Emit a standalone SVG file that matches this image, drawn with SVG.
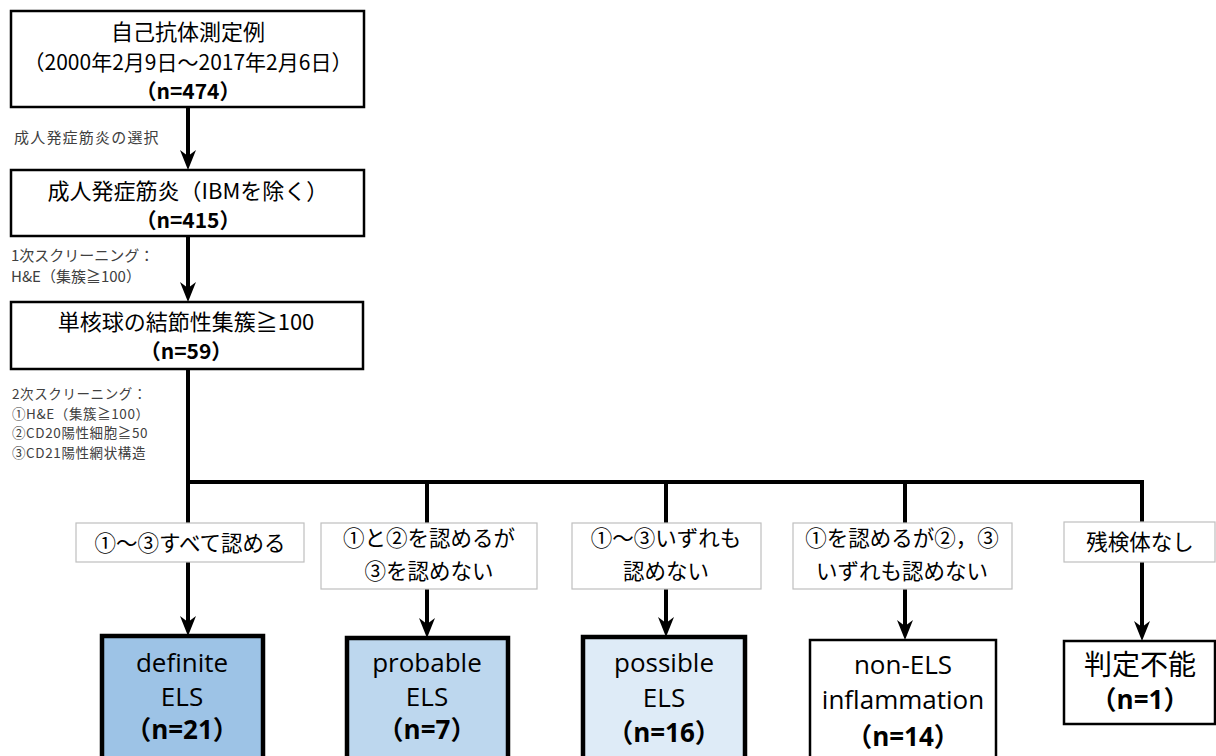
<svg xmlns="http://www.w3.org/2000/svg" width="1216" height="756" viewBox="0 0 1216 756">
<style>
.jp{font-family:"Noto Sans CJK JP","Noto Sans",sans-serif;fill:#000}
.lat{font-family:"Open Sans","Noto Sans CJK JP",sans-serif;fill:#000}
.small{font-family:"Noto Sans CJK JP","Noto Sans",sans-serif;font-size:15px;fill:#404040}
.sm2{font-size:13.5px;letter-spacing:0.6px}
.box{fill:#fff;stroke:#000;stroke-width:2.5}
.lbl{fill:#fff;stroke:#bfbfbf;stroke-width:1.2}
.thick{stroke:#000;stroke-width:4.5}
.thin{fill:#fff;stroke:#000;stroke-width:2.5}
.conn{fill:none;stroke:#000;stroke-width:4}
.b{font-weight:bold}
</style>
<defs>
<marker id="ah" markerUnits="userSpaceOnUse" viewBox="0 0 20 16" markerWidth="20" markerHeight="16" refX="12" refY="8" orient="auto">
<path d="M0,0 L20,8 L0,16 L6,8 Z" fill="#000"/>
</marker>
</defs>

<g id="connectors">
<line class="conn" x1="188" y1="107" x2="188" y2="162" marker-end="url(#ah)"/>
<line class="conn" x1="188" y1="236" x2="188" y2="294" marker-end="url(#ah)"/>
<line class="conn" x1="188" y1="369" x2="188" y2="628" marker-end="url(#ah)"/>
<path class="conn" d="M186,482 H1142 V633" marker-end="url(#ah)"/>
<line class="conn" x1="427" y1="482" x2="427" y2="630" marker-end="url(#ah)"/>
<line class="conn" x1="666" y1="482" x2="666" y2="629" marker-end="url(#ah)"/>
<line class="conn" x1="905" y1="482" x2="905" y2="632" marker-end="url(#ah)"/>
</g>

<g id="label-select">
<text class="small" x="14" y="143" letter-spacing="1.2">成人発症筋炎の選択</text>
</g>
<g id="label-screen1">
<text class="small" x="11" y="261" font-size="14">1次スクリーニング：</text>
<text class="small" x="11" y="282" font-size="14">H&amp;E（集簇≧100）</text>
</g>
<g id="label-screen2">
<text class="small sm2" x="12" y="399">2次スクリーニング：</text>
<text class="small sm2" x="12" y="418.5">①H&amp;E（集簇≧100）</text>
<text class="small sm2" x="12" y="438">②CD20陽性細胞≧50</text>
<text class="small sm2" x="12" y="457.5">③CD21陽性網状構造</text>
</g>

<g id="node-all">
<rect class="box" x="11" y="11" width="353" height="96"/>
<text class="jp" x="188" y="40" font-size="22" text-anchor="middle">自己抗体測定例</text>
<text class="jp" x="188" y="70" font-size="21" text-anchor="middle">（2000年2月9日～2017年2月6日）</text>
<text class="jp b" x="188" y="99" font-size="21" text-anchor="middle">（n=474）</text>
</g>
<g id="node-adult">
<rect class="box" x="11" y="170" width="353" height="66"/>
<text class="jp" x="188" y="199" font-size="22" text-anchor="middle">成人発症筋炎（IBMを除く）</text>
<text class="jp b" x="188" y="228" font-size="21" text-anchor="middle">（n=415）</text>
</g>
<g id="node-nodular">
<rect class="box" x="11" y="302" width="352" height="67"/>
<text class="jp" x="186" y="330" font-size="22" text-anchor="middle">単核球の結節性集簇≧100</text>
<text class="jp b" x="186" y="359" font-size="21" text-anchor="middle">（n=59）</text>
</g>

<g id="cond-1">
<rect class="lbl" x="76" y="523" width="228" height="39"/>
<text class="jp" x="190" y="551" font-size="21.5" text-anchor="middle">①～③すべて認める</text>
</g>
<g id="cond-2">
<rect class="lbl" x="321" y="523" width="216" height="66"/>
<text class="jp" x="429" y="546" font-size="21.5" text-anchor="middle">①と②を認めるが</text>
<text class="jp" x="429" y="579" font-size="21.5" text-anchor="middle">③を認めない</text>
</g>
<g id="cond-3">
<rect class="lbl" x="572" y="523" width="189" height="66"/>
<text class="jp" x="666" y="546" font-size="21.5" text-anchor="middle">①～③いずれも</text>
<text class="jp" x="666" y="579" font-size="21.5" text-anchor="middle">認めない</text>
</g>
<g id="cond-4">
<rect class="lbl" x="793" y="523" width="219" height="66"/>
<text class="jp" x="902" y="546" font-size="21.5" text-anchor="middle">①を認めるが②，③</text>
<text class="jp" x="902" y="579" font-size="21.5" text-anchor="middle">いずれも認めない</text>
</g>
<g id="cond-5">
<rect class="lbl" x="1064" y="522" width="151" height="40"/>
<text class="jp" x="1140" y="550" font-size="21.5" text-anchor="middle">残検体なし</text>
</g>

<g id="node-definite">
<rect class="thick" fill="#9dc3e6" x="102" y="636" width="161" height="140"/>
<text class="lat" x="182" y="672" font-size="26" text-anchor="middle">definite</text>
<text class="lat" x="182" y="706" font-size="26" text-anchor="middle">ELS</text>
<text class="lat b" x="182" y="739" font-size="26" text-anchor="middle">（n=21）</text>
</g>
<g id="node-probable">
<rect class="thick" fill="#bdd7ee" x="347" y="638" width="161" height="140"/>
<text class="lat" x="427" y="672" font-size="26" text-anchor="middle">probable</text>
<text class="lat" x="427" y="706" font-size="26" text-anchor="middle">ELS</text>
<text class="lat b" x="427" y="739" font-size="26" text-anchor="middle">（n=7）</text>
</g>
<g id="node-possible">
<rect class="thick" fill="#deebf7" x="583" y="637" width="162" height="140"/>
<text class="lat" x="664" y="672" font-size="26" text-anchor="middle">possible</text>
<text class="lat" x="664" y="707" font-size="26" text-anchor="middle">ELS</text>
<text class="lat b" x="664" y="742" font-size="26" text-anchor="middle">（n=16）</text>
</g>
<g id="node-nonels">
<rect class="thin" x="810" y="640" width="186" height="140"/>
<text class="lat" x="903" y="674" font-size="26" text-anchor="middle">non-ELS</text>
<text class="lat" x="903" y="709" font-size="26" text-anchor="middle">inflammation</text>
<text class="lat b" x="903" y="746" font-size="26" text-anchor="middle">（n=14）</text>
</g>
<g id="node-undetermined">
<rect class="thin" x="1064" y="641" width="151" height="83"/>
<text class="jp" x="1140" y="675" font-size="28" text-anchor="middle">判定不能</text>
<text class="lat b" x="1140" y="709" font-size="26" text-anchor="middle">（n=1）</text>
</g>
</svg>
